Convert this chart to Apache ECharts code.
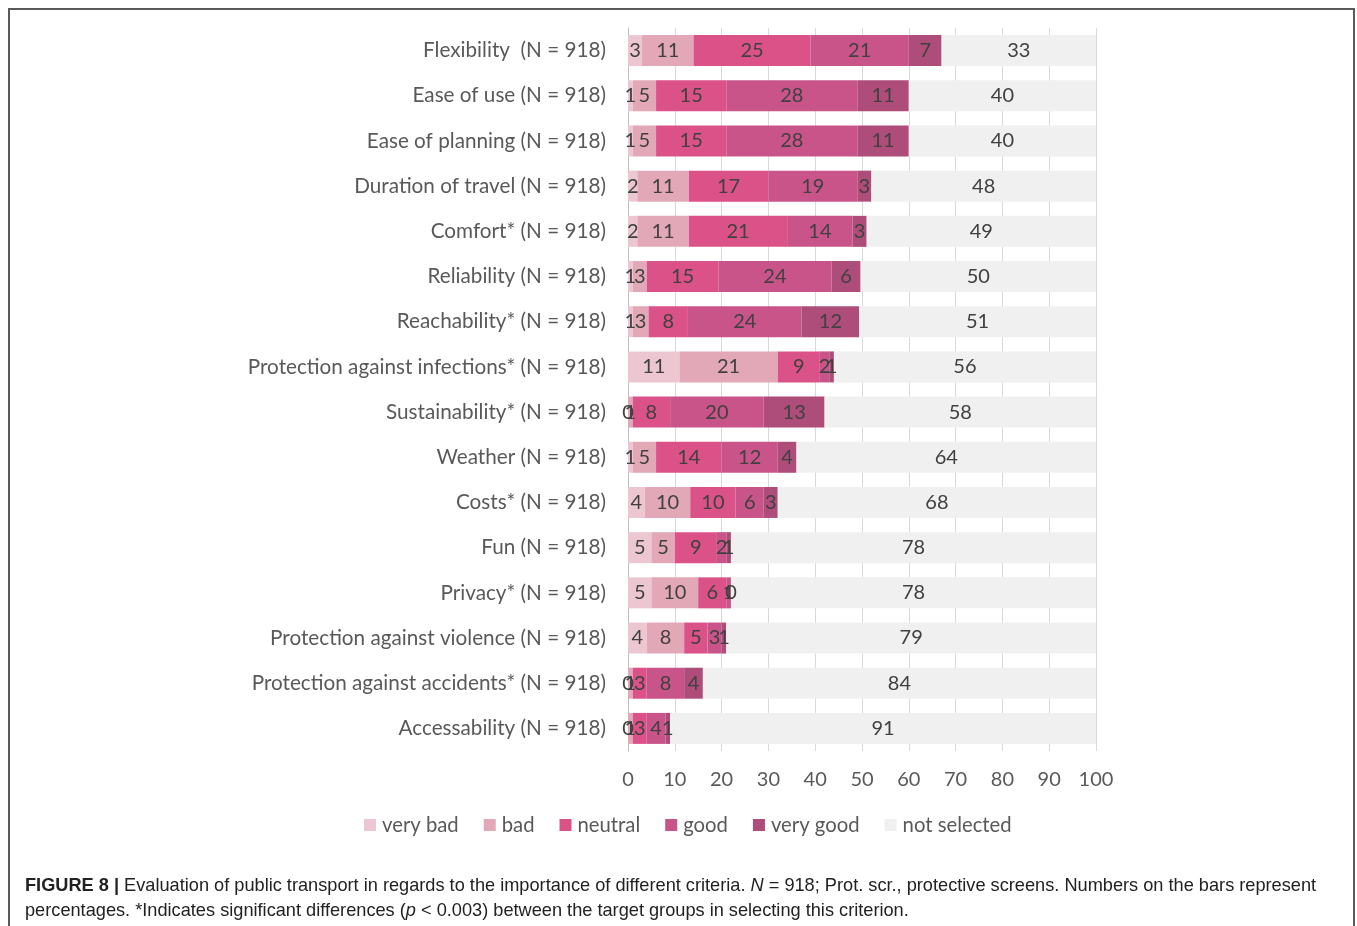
<!DOCTYPE html>
<html><head><meta charset="utf-8">
<script src="https://cdn.jsdelivr.net/npm/echarts@6/dist/echarts.min.js"></script>
<style>html,body{margin:0;padding:0;background:#fff}#c{width:1357px;height:926px}</style>
</head><body><div id="c"></div>
<script>
const categories = [
  'Flexibility  (N = 918)', 'Ease of use (N = 918)', 'Ease of planning (N = 918)',
  'Duration of travel (N = 918)', 'Comfort* (N = 918)', 'Reliability (N = 918)',
  'Reachability* (N = 918)', 'Protection against infections* (N = 918)',
  'Sustainability* (N = 918)', 'Weather (N = 918)', 'Costs* (N = 918)', 'Fun (N = 918)',
  'Privacy* (N = 918)', 'Protection against violence (N = 918)',
  'Protection against accidents* (N = 918)', 'Accessability (N = 918)'
];
const veryBad     = [3, 1, 1, 2, 2, 1, 1, 11, 0, 1, 3.6, 5, 5, 4, 0, 0];
const bad         = [11, 5, 5, 11, 11, 3, 3.4, 21, 1, 5, 9.7, 5, 10, 8, 1, 1];
const neutral     = [25, 15, 15, 17, 21, 15.3, 8.4, 9, 8, 14, 9.7, 9, 6, 5, 3, 3];
const good        = [21, 28, 28, 19, 14, 24.2, 24.3, 2, 20, 12, 6, 2, 1, 3, 8, 4];
const veryGood    = [7, 11, 11, 3, 3, 6.2, 12.3, 1, 13, 4, 3, 1, 0, 1, 4, 1];
const notSelected = [33, 40, 40, 48, 49, 50.3, 50.6, 56, 58, 64, 68, 78, 78, 79, 84, 91];
const xTicks = [0, 10, 20, 30, 40, 50, 60, 70, 80, 90, 100];

const seriesNames = ['very bad', 'bad', 'neutral', 'good', 'very good', 'not selected'];
const seriesData = [veryBad, bad, neutral, good, veryGood, notSelected];
const colors = ['#ecc7d1', '#e2a8b7', '#db5289', '#c9548a', '#ae4d7a', '#f0f0f0'];
const FONT = 'Lato';
const CAP = 'Liberation Sans';

const chart = echarts.init(document.getElementById('c'), null, {renderer: 'canvas'});
chart.setOption({
  animation: false,
  color: colors,
  grid: {left: 628, right: 1357 - 1096, top: 28, bottom: 926 - 751, containLabel: false},
  xAxis: {
    type: 'value', min: 0, max: 100, interval: 10,
    axisLine: {show: false}, axisTick: {show: false},
    splitLine: {show: true, lineStyle: {color: '#d9d9d9', width: 1}},
    axisLabel: {color: '#595959', fontSize: 20, fontFamily: FONT, margin: 19,
      formatter: v => xTicks.includes(v) ? String(v) : ''}
  },
  yAxis: {
    type: 'category', data: categories, inverse: true,
    axisLine: {show: true, lineStyle: {color: '#bfbfbf', width: 1}},
    axisTick: {show: false},
    axisLabel: {color: '#595959', fontSize: 20.7, fontFamily: FONT, margin: 22}
  },
  legend: {
    data: seriesNames, left: 359, top: 810,
    itemWidth: 12, itemHeight: 12, itemGap: 25, icon: 'rect',
    textStyle: {color: '#595959', fontSize: 20.3, fontFamily: FONT, padding: [0, 0, 0, 1]}
  },
  series: seriesData.map((d, i) => ({
    name: seriesNames[i], type: 'bar', stack: 'total', data: d, barWidth: 31,
    itemStyle: {color: colors[i]},
    label: {show: true, position: 'inside', color: '#404040', fontSize: 20, fontFamily: FONT,
      formatter: p => String(Math.round(p.value))}
  })),
  graphic: [
    {type: 'rect', shape: {x: 9, y: 9, width: 1345, height: 960},
     style: {fill: 'none', stroke: '#5a5a5a', lineWidth: 2}, silent: true},
    {type: 'text', left: 25, top: 873, style: {
      text: '{b|FIGURE 8 |} Evaluation of public transport in regards to the importance of different criteria. {i|N} = 918; Prot. scr., protective screens. Numbers on the bars represent\npercentages. *Indicates significant differences ({i|p} < 0.003) between the target groups in selecting this criterion.',
      fill: '#222', fontSize: 18.2, fontFamily: CAP, lineHeight: 25,
      rich: {
        b: {fontWeight: 'bold', fontSize: 18.2, fontFamily: CAP, fill: '#222'},
        i: {fontStyle: 'italic', fontSize: 18.2, fontFamily: CAP, fill: '#222'}
      }
    }}
  ]
});
</script></body></html>
